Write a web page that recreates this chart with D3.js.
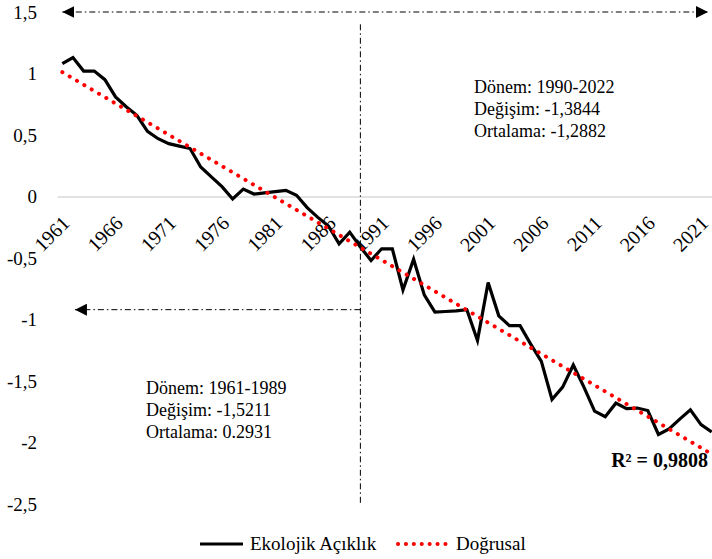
<!DOCTYPE html>
<html>
<head>
<meta charset="utf-8">
<script src="https://cdn.jsdelivr.net/npm/d3@7"></script>
<style>
  body { margin: 0; background: #fff; }
  svg text { font-family: "Times New Roman", "Liberation Serif", Tinos, "DejaVu Serif", serif !important; fill: #000; }
</style>
</head>
<body>
<div id="chart"></div>
<script>
// Yıllar ve Ekolojik Açıklık değerleri
const FIRST_YEAR = 1961;
const VALUES = [
  1.08, 1.13, 1.02, 1.02, 0.95, 0.81, 0.73, 0.66, 0.53, 0.47,
  0.43, 0.41, 0.39, 0.24, 0.16, 0.08, -0.02, 0.06, 0.02, 0.03,
  0.04, 0.05, 0.01, -0.09, -0.17, -0.24, -0.385, -0.29, -0.41, -0.52,
  -0.425, -0.425, -0.76, -0.51, -0.80, -0.94, -0.935, -0.93, -0.92, -1.17,
  -0.70, -0.97, -1.05, -1.05, -1.20, -1.34, -1.65, -1.55, -1.37, -1.55,
  -1.745, -1.79, -1.68, -1.725, -1.72, -1.74, -1.935, -1.89, -1.81, -1.735,
  -1.855, -1.915
];
const YEARS = VALUES.map((v, i) => FIRST_YEAR + i);
const X_TICKS = [1961, 1966, 1971, 1976, 1981, 1986, 1991, 1996, 2001, 2006, 2011, 2016, 2021];
const Y_TICKS = [1.5, 1, 0.5, 0, -0.5, -1, -1.5, -2, -2.5];
const SERIES_NAMES = ["Ekolojik Açıklık", "Doğrusal"];
const R2_LABEL = "R² = 0,9808";
const NOTE_RIGHT = ["Dönem: 1990-2022", "Değişim: -1,3844", "Ortalama: -1,2882"];
const NOTE_LEFT = ["Dönem: 1961-1989", "Değişim: -1,5211", "Ortalama: 0.2931"];
const BREAK_YEAR = 1989;

const width = 712, height = 559;
const data = YEARS.map((y, i) => ({ year: y, value: VALUES[i] }));

const svg = d3.select("#chart").append("svg")
  .attr("width", width)
  .attr("height", height);

// ölçekler
const x = d3.scalePoint().domain(YEARS).range([57, 717]).padding(0.5);
const y = d3.scaleLinear().domain([-2.5, 1.5]).range([504, 12]);

const fmt = d => String(d).replace(".", ",");

// y ekseni (sadece etiketler)
const yAxis = svg.append("g")
  .attr("transform", "translate(40,0)")
  .call(d3.axisLeft(y).tickValues(Y_TICKS).tickSize(0).tickPadding(3).tickFormat(fmt));
yAxis.select(".domain").remove();
yAxis.selectAll("text").style("font-size", "19px");

// x ekseni (0 çizgisi)
const xAxis = svg.append("g")
  .attr("transform", `translate(0,${y(0)})`)
  .call(d3.axisBottom(x).tickValues(X_TICKS).tickSize(0));
xAxis.select(".domain").attr("stroke", "#d9d9d9").attr("stroke-width", 1.5);
xAxis.selectAll("text")
  .attr("x", 0).attr("y", 0).attr("dy", 0)
  .attr("text-anchor", "end")
  .attr("transform", "translate(8,28) rotate(-45)")
  .style("font-size", "20px");

// doğrusal eğilim (en küçük kareler)
const idx = data.map((d, i) => i + 1);
const mx = d3.mean(idx), my = d3.mean(VALUES);
const slope = d3.sum(idx, (t, i) => (t - mx) * (VALUES[i] - my)) / d3.sum(idx, t => (t - mx) ** 2);
const icpt = my - slope * mx;
const trend = [data[0], data[data.length - 1]].map(d => ({ year: d.year, value: icpt + slope * (d.year - FIRST_YEAR + 1) }));

// çizgi
const line = d3.line().x(d => x(d.year)).y(d => y(d.value));
svg.append("path")
  .datum(data)
  .attr("fill", "none")
  .attr("stroke", "#000")
  .attr("stroke-width", 3.2)
  .attr("d", line);

svg.append("path")
  .datum(trend)
  .attr("fill", "none")
  .attr("stroke", "#ff0000")
  .attr("stroke-width", 4)
  .attr("stroke-linecap", "round")
  .attr("stroke-dasharray", "0.1 8.4")
  .attr("d", line);

// ok uçları
const defs = svg.append("defs");
defs.append("marker")
  .attr("id", "arrow")
  .attr("viewBox", "0 0 10 10")
  .attr("refX", 10).attr("refY", 5)
  .attr("markerWidth", 12).attr("markerHeight", 12)
  .attr("markerUnits", "userSpaceOnUse")
  .attr("orient", "auto-start-reverse")
  .append("path").attr("d", "M0,0 L10,5 L0,10 Z").attr("fill", "#000");

const dashDot = "6 3 1.5 3";

// dikey ayraç
svg.append("line")
  .attr("x1", x(BREAK_YEAR)).attr("x2", x(BREAK_YEAR))
  .attr("y1", y(1.4)).attr("y2", y(-2.5))
  .attr("stroke", "#000").attr("stroke-width", 1)
  .attr("stroke-dasharray", dashDot);

// üst ok
svg.append("line")
  .attr("x1", x(FIRST_YEAR)).attr("x2", 708)
  .attr("y1", y(1.5)).attr("y2", y(1.5))
  .attr("stroke", "#000").attr("stroke-width", 1)
  .attr("stroke-dasharray", dashDot)
  .attr("marker-start", "url(#arrow)")
  .attr("marker-end", "url(#arrow)");

// sol ok
svg.append("line")
  .attr("x1", x(BREAK_YEAR)).attr("x2", x(1962) + 2)
  .attr("y1", y(-0.92)).attr("y2", y(-0.92))
  .attr("stroke", "#000").attr("stroke-width", 1)
  .attr("stroke-dasharray", dashDot)
  .attr("marker-end", "url(#arrow)");

// notlar
function note(lines, x0, y0) {
  const t = svg.append("text").style("font-size", "18px");
  lines.forEach((s, i) => {
    t.append("tspan").attr("x", x0).attr("y", y0 + i * 22).text(s);
  });
}
note(NOTE_RIGHT, 474, 93);
note(NOTE_LEFT, 146, 394);

svg.append("text")
  .attr("x", 708).attr("y", 467)
  .attr("text-anchor", "end")
  .style("font-size", "20px")
  .style("font-weight", "bold")
  .text(R2_LABEL);

// lejant
const lg = svg.append("g").attr("transform", "translate(0,544)");
lg.append("line").attr("x1", 200).attr("x2", 243).attr("y1", 0).attr("y2", 0)
  .attr("stroke", "#000").attr("stroke-width", 3);
lg.append("text").attr("x", 250).attr("y", 6).style("font-size", "19px").text(SERIES_NAMES[0]);
lg.append("line").attr("x1", 398).attr("x2", 452).attr("y1", 0).attr("y2", 0)
  .attr("stroke", "#ff0000").attr("stroke-width", 4)
  .attr("stroke-linecap", "round").attr("stroke-dasharray", "0.1 7.8");
lg.append("text").attr("x", 456).attr("y", 6).style("font-size", "19px").text(SERIES_NAMES[1]);
</script>
</body>
</html>
